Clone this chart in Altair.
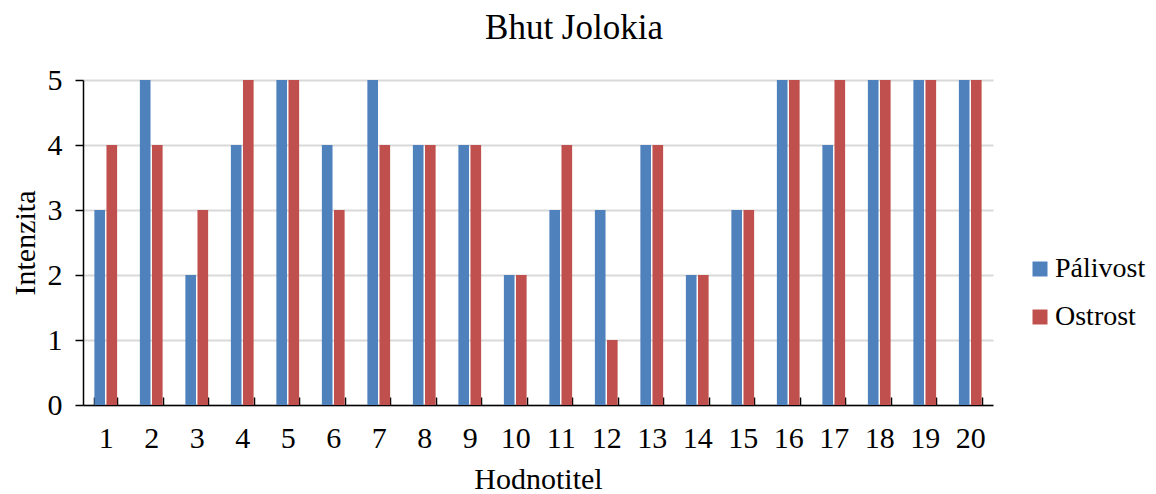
import altair as alt
import pandas as pd

hodnotitel = [str(i) for i in range(1, 21)]
palivost = [3, 5, 2, 4, 5, 4, 5, 4, 4, 2, 3, 3, 4, 2, 3, 5, 4, 5, 5, 5]
ostrost = [4, 4, 3, 5, 5, 3, 4, 4, 4, 2, 4, 1, 4, 2, 3, 5, 5, 5, 5, 5]
series = ["Pálivost", "Ostrost"]
colors = ["#4F81BD", "#C0504D"]
y_ticks = [0, 1, 2, 3, 4, 5]

rows = []
for h, p, o in zip(hodnotitel, palivost, ostrost):
    rows.append({"Hodnotitel": h, "Série": series[0], "Intenzita": p})
    rows.append({"Hodnotitel": h, "Série": series[1], "Intenzita": o})
df = pd.DataFrame(rows)

FONT = "Liberation Serif"

chart = alt.Chart(df).mark_bar().encode(
    x=alt.X(
        "Hodnotitel:N",
        sort=hodnotitel,
        title="Hodnotitel",
        scale=alt.Scale(paddingInner=0.5, paddingOuter=0.25),
        axis=alt.Axis(
            labelAngle=0,
            tickBand="extent",
            tickSize=alt.ExprRef(expr="-8"),
            labelPadding=26,
            titlePadding=11,
            grid=False,
        ),
    ),
    xOffset=alt.XOffset("Série:N", sort=series, scale=alt.Scale(paddingInner=0.12)),
    y=alt.Y(
        "Intenzita:Q",
        title="Intenzita",
        scale=alt.Scale(domain=[0, 5], nice=False),
        axis=alt.Axis(values=y_ticks, tickSize=8, labelPadding=13, titlePadding=7, grid=True),
    ),
    color=alt.Color(
        "Série:N",
        sort=series,
        scale=alt.Scale(domain=series, range=colors),
        legend=alt.Legend(
            title=None,
            orient="none",
            legendX=943,
            legendY=175,
            padding=0,
            symbolType="square",
            symbolSize=225,
            symbolStrokeWidth=0,
            labelFontSize=28,
            labelFont=FONT,
            labelColor="black",
            labelOffset=1,
            rowPadding=20,
        ),
    ),
).properties(
    width=910,
    height=325,
    title=alt.TitleParams("Bhut Jolokia", anchor="middle", dx=36, offset=19,
                          font=FONT, fontSize=35, fontWeight="normal", color="black"),
    autosize=alt.AutoSizeParams(type="none"),
    padding={"left": 75, "top": 72, "right": 155, "bottom": 89},
).configure_view(stroke=None).configure_axis(
    labelFont=FONT,
    titleFont=FONT,
    labelFontSize=30,
    titleFontSize=30,
    titleFontWeight="normal",
    labelColor="black",
    titleColor="black",
    domainColor="black",
    domainWidth=1.5,
    tickColor="black",
    tickWidth=1.5,
    gridColor="#D9D9D9",
    gridWidth=2,
)

chart.save("out.html", embed_options={"renderer": "svg", "actions": False})
